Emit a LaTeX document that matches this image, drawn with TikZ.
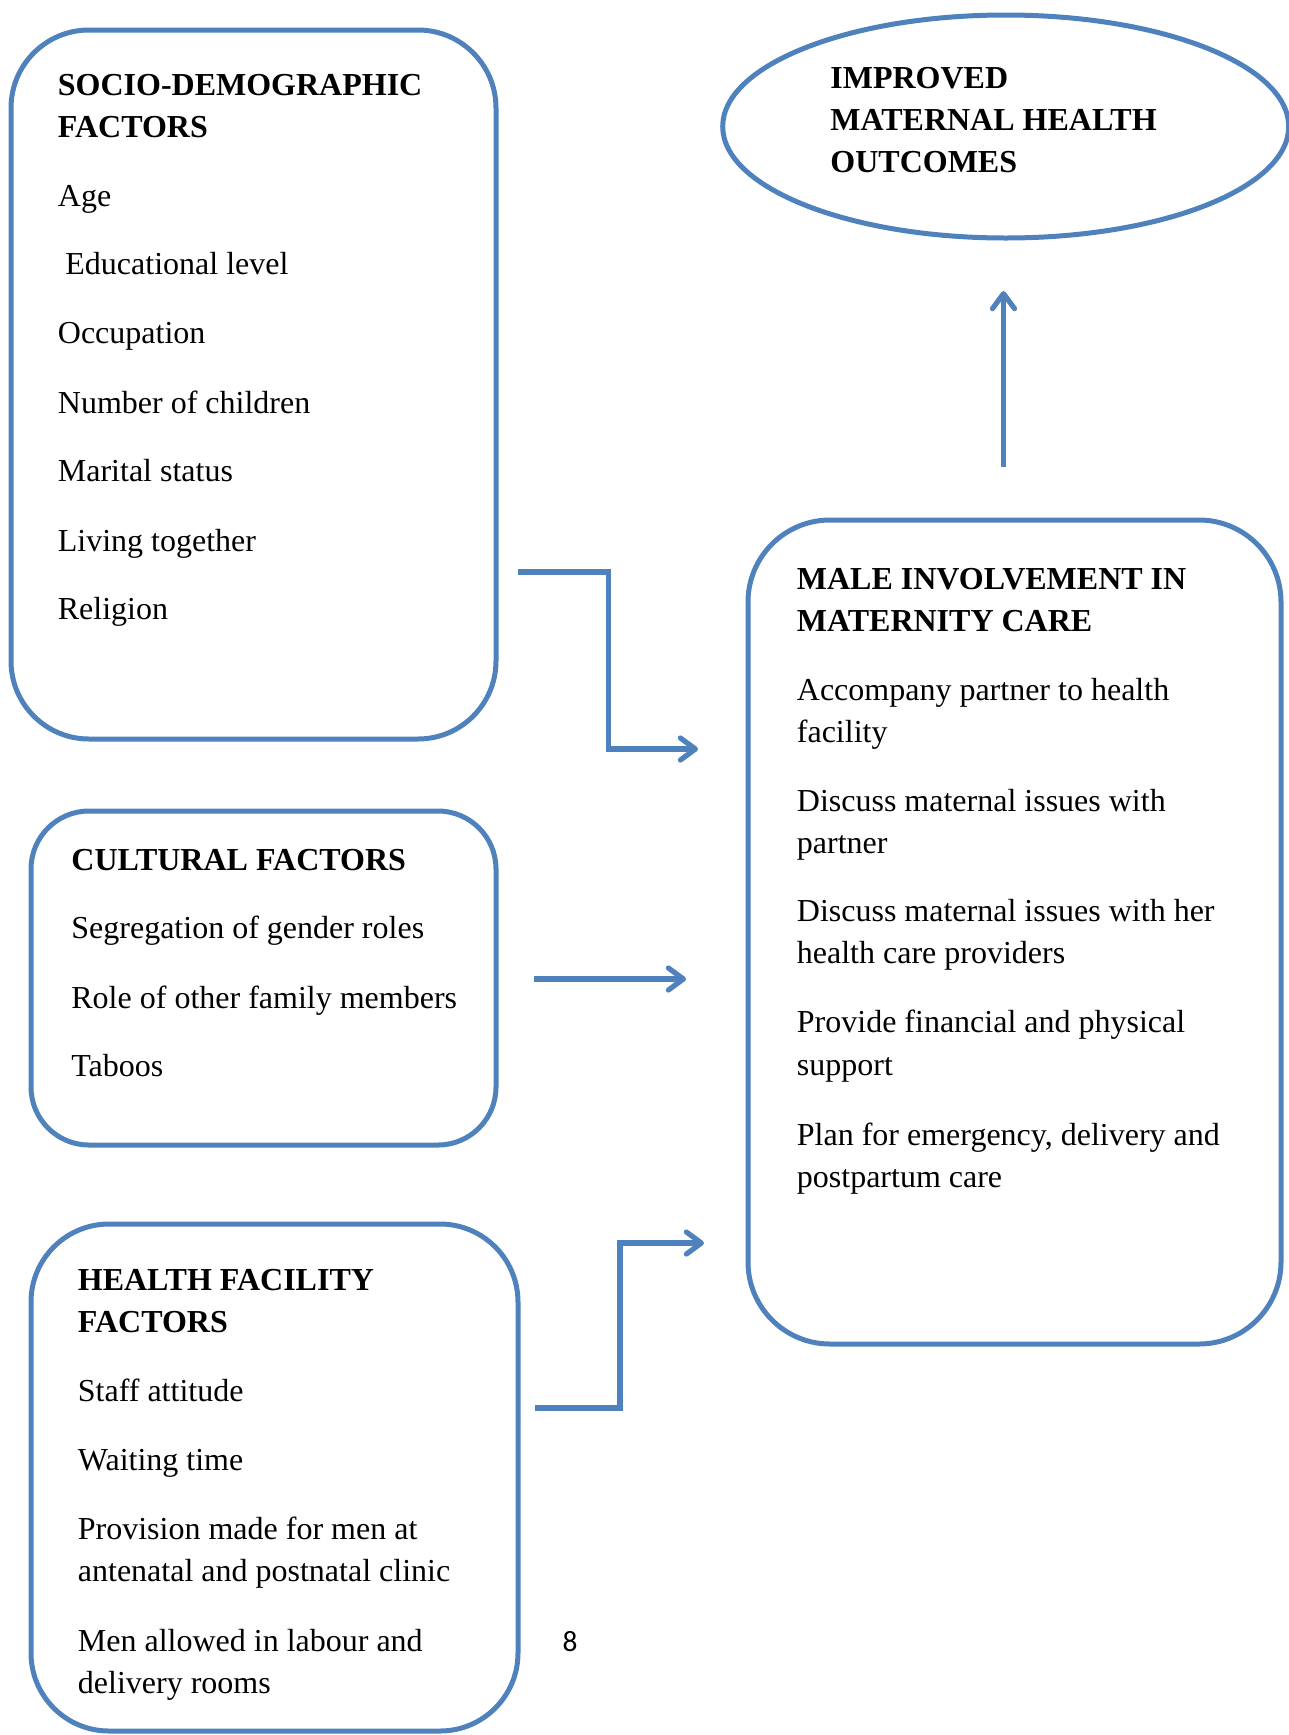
\documentclass[tikz,border=0pt]{standalone}
\usepackage{fontspec}
\setmainfont{Liberation Serif}
\newfontfamily\pagefont{Carlito}
\usetikzlibrary{arrows.meta,shapes.geometric}
\definecolor{wordblue}{RGB}{79,129,189}
\begin{document}
\begin{tikzpicture}[x=0.5pt,y=-0.5pt,
  box/.style={draw=wordblue,line width=2.5pt,rectangle,inner sep=0pt},
  txt/.style={anchor=base west,inner sep=0pt,font=\fontsize{16pt}{21pt}\selectfont},
  hd/.style={anchor=base west,inner sep=0pt,font=\fontsize{16pt}{21pt}\selectfont\bfseries},
  conn/.style={draw=wordblue,line width=2.6pt,line join=miter,-{Straight Barb[length=7.5pt,width=11pt,round]}}]
\useasboundingbox (0,0) rectangle (1289,1735);

% boxes
\node[box,rounded corners=39pt,minimum width=242.5pt,minimum height=354.5pt] (socio) at (253.5,384.5) {};
\node[box,rounded corners=29pt,minimum width=232.5pt,minimum height=167pt] (cult) at (263.5,978) {};
\node[box,rounded corners=39pt,minimum width=243.5pt,minimum height=253.5pt] (hf) at (274.5,1477.5) {};
\node[box,rounded corners=41pt,minimum width=266.5pt,minimum height=412pt] (male) at (1014.5,932) {};
\node[draw=wordblue,line width=2.5pt,ellipse,inner sep=0pt,minimum width=283pt,minimum height=111.5pt] (out) at (1005.7,126.5) {};

% socio-demographic text
\node[hd] (s0) at (57.5,95.5) {SOCIO-DEMOGRAPHIC};
\node[hd] (s0b) at (57.5,137.5) {FACTORS};
\node[txt] (s1) at (57.5,206) {Age};
\node[txt] (s2) at (65,274.5) {Educational level};
\node[txt] (s3) at (57.5,343) {Occupation};
\node[txt] (s4) at (57.5,413) {Number of children};
\node[txt] (s5) at (57.5,481) {Marital status};
\node[txt] (s6) at (57.5,551) {Living together};
\node[txt] (s7) at (57.5,619.5) {Religion};

% cultural text
\node[hd] (c0) at (71,870.5) {CULTURAL FACTORS};
\node[txt] (c1) at (71,938) {Segregation of gender roles};
\node[txt] (c2) at (71,1008) {Role of other family members};
\node[txt] (c3) at (71,1076.5) {Taboos};

% health facility text
\node[hd] (h0) at (77.5,1290.5) {HEALTH FACILITY};
\node[hd] (h0b) at (77.5,1332.5) {FACTORS};
\node[txt] (h1) at (77.5,1401) {Staff attitude};
\node[txt] (h2) at (77.5,1470.5) {Waiting time};
\node[txt] (h3) at (77.5,1539) {Provision made for men at};
\node[txt] (h3b) at (77.5,1581) {antenatal and postnatal clinic};
\node[txt] (h4) at (77.5,1651) {Men allowed in labour and};
\node[txt] (h4b) at (77.5,1693) {delivery rooms};

% male involvement text
\node[hd] (m0) at (796.5,589) {MALE INVOLVEMENT IN};
\node[hd] (m0b) at (796.5,631) {MATERNITY CARE};
\node[txt] (m1) at (796.5,700) {Accompany partner to health};
\node[txt] (m1b) at (796.5,742.5) {facility};
\node[txt] (m2) at (796.5,811) {Discuss maternal issues with};
\node[txt] (m2b) at (796.5,853) {partner};
\node[txt] (m3) at (796.5,921.5) {Discuss maternal issues with her};
\node[txt] (m3b) at (796.5,963.5) {health care providers};
\node[txt] (m4) at (796.5,1032) {Provide financial and physical};
\node[txt] (m4b) at (796.5,1075.5) {support};
\node[txt] (m5) at (796.5,1145) {Plan for emergency, delivery and};
\node[txt] (m5b) at (796.5,1187) {postpartum care};

% outcome text
\node[hd] (o1) at (830,88) {IMPROVED};
\node[hd] (o2) at (830,130) {MATERNAL HEALTH};
\node[hd] (o3) at (830,172) {OUTCOMES};

% page number
\node[anchor=base,inner sep=0pt,font=\pagefont\fontsize{14.7pt}{17pt}\selectfont] (pg) at (570,1651) {8};

% connector coordinates
\coordinate (a1s) at (518,572);
\coordinate (a1e) at (698,749);
\coordinate (a2s) at (534,979);
\coordinate (a2e) at (686,979);
\coordinate (a3s) at (535,1408);
\coordinate (a3e) at (704,1243);
\coordinate (a4s) at (1003.5,467);
\coordinate (a4e) at (1003.5,291);

\draw[conn] (a1s) -- (608.5,572) |- (a1e);
\draw[conn] (a2s) -- (a2e);
\draw[conn] (a3s) -- (620,1408) |- (a3e);
\draw[conn] (a4s) -- (a4e);
\end{tikzpicture}
\end{document}
